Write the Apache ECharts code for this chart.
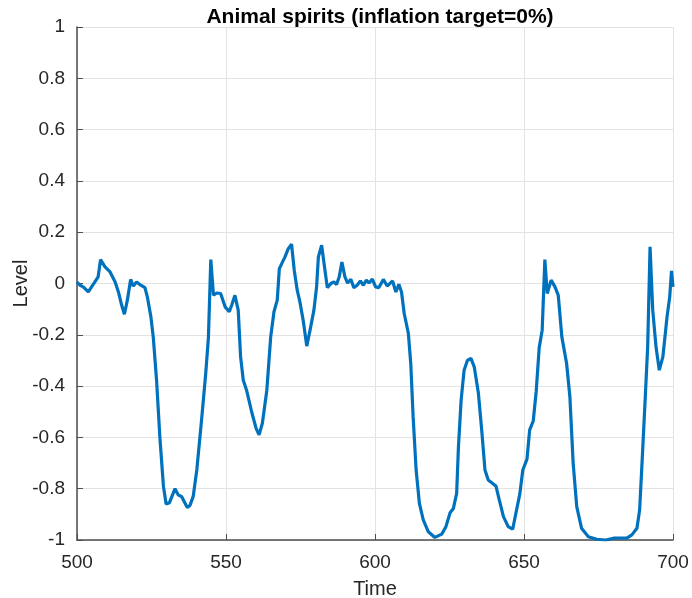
<!DOCTYPE html>
<html>
<head>
<meta charset="utf-8">
<script src="https://cdn.jsdelivr.net/npm/echarts@6/dist/echarts.min.js"></script>
<style>html,body{margin:0;padding:0;background:#fff}#c{width:692px;height:598px}</style>
</head>
<body>
<div id="c"></div>
<script>
const chartTitle = 'Animal spirits (inflation target=0%)';
const xTitle = 'Time';
const yTitle = 'Level';
const xTicks = [500, 550, 600, 650, 700];
const yTicks = [-1, -0.8, -0.6, -0.4, -0.2, 0, 0.2, 0.4, 0.6, 0.8, 1];

const times = [
500.0,501.0,502.1,503.8,504.9,506.0,507.1,507.9,509.4,511.1,512.8,513.9,515.0,515.9,516.9,518.0,518.9,520.0,521.1,522.8,
523.6,524.8,525.6,526.7,527.8,529.0,529.9,531.0,532.9,534.0,535.1,537.0,537.9,539.0,540.2,541.8,543.2,544.1,544.9,545.8,
546.9,548.2,549.7,551.1,551.9,553.0,554.1,554.9,555.8,556.9,558.6,560.1,561.1,562.2,563.7,565.0,566.1,567.2,567.9,569.8,
570.9,572.0,572.9,573.9,574.8,575.9,577.1,578.2,579.5,580.4,581.0,582.1,582.9,584.0,585.2,586.2,587.1,588.0,588.9,589.9,
590.8,591.9,592.9,594.0,595.1,596.1,597.1,598.0,599.1,600.2,601.3,602.8,604.1,605.9,607.0,608.0,608.9,609.8,611.2,612.0,
612.8,613.8,614.9,616.2,617.9,620.1,622.4,623.8,625.2,626.3,627.4,628.0,628.9,629.9,631.0,632.2,633.3,634.7,635.8,636.9,
638.0,639.5,640.6,641.7,643.1,644.7,646.2,647.5,648.6,649.6,651.0,651.9,653.1,654.1,655.1,656.1,657.0,657.8,659.1,660.4,
661.5,662.7,664.3,665.4,666.5,667.7,669.3,671.6,674.4,677.5,680.0,684.5,686.2,687.9,688.8,689.6,690.7,691.5,692.3,693.2,
694.3,695.4,696.6,698.0,698.9,699.5,700.0
];
const levels = [
0.006,-0.007,-0.013,-0.033,-0.013,0.006,0.026,0.093,0.065,0.045,0.006,-0.033,-0.085,-0.12,-0.065,0.016,-0.01,0.006,-0.004,-0.016,
-0.052,-0.13,-0.21,-0.377,-0.598,-0.79,-0.86,-0.855,-0.80,-0.825,-0.83,-0.873,-0.865,-0.83,-0.727,-0.532,-0.35,-0.21,0.093,-0.045,
-0.037,-0.039,-0.091,-0.11,-0.085,-0.046,-0.104,-0.286,-0.377,-0.416,-0.50,-0.565,-0.59,-0.545,-0.416,-0.208,-0.11,-0.065,0.058,0.104,
0.136,0.153,0.052,-0.026,-0.072,-0.143,-0.244,-0.182,-0.104,-0.013,0.104,0.149,0.078,-0.016,0.0,0.006,-0.004,0.026,0.084,0.026,
0.002,0.016,-0.016,-0.007,0.01,-0.007,0.013,0.002,0.017,-0.013,-0.016,0.016,-0.01,0.01,-0.033,-0.003,-0.033,-0.117,-0.195,-0.312,
-0.52,-0.727,-0.857,-0.922,-0.968,-0.99,-0.977,-0.948,-0.894,-0.877,-0.818,-0.637,-0.455,-0.338,-0.30,-0.292,-0.325,-0.428,-0.571,-0.727,
-0.766,-0.78,-0.79,-0.844,-0.909,-0.948,-0.958,-0.883,-0.82,-0.727,-0.685,-0.571,-0.536,-0.42,-0.25,-0.182,0.093,-0.039,0.013,-0.013,
-0.046,-0.208,-0.312,-0.442,-0.701,-0.87,-0.954,-0.987,-0.997,-1.0,-0.993,-0.993,-0.98,-0.954,-0.883,-0.701,-0.442,-0.247,0.143,-0.104,
-0.247,-0.338,-0.286,-0.13,-0.052,0.049,-0.013
];

const FONT = '"Liberation Sans", Arial, sans-serif';
const TXT = '#262626';
const AX = '#4d4d4d';
const chart = echarts.init(document.getElementById('c'));
chart.setOption({
  animation: false,
  backgroundColor: '#ffffff',
  title: {
    text: chartTitle, left: 375, top: 2, textAlign: 'center',
    textStyle: {fontFamily: FONT, fontSize: 21, fontWeight: 'bold', color: '#000'}
  },
  grid: {left: 77, right: 19, top: 27, bottom: 58, containLabel: false, outerBoundsMode: 'none'},
  xAxis: {
    type: 'value', min: xTicks[0], max: xTicks[xTicks.length-1], interval: 50,
    name: xTitle, nameLocation: 'middle', nameGap: 39, nameMoveOverlap: false,
    nameTextStyle: {fontFamily: FONT, fontSize: 20, color: TXT},
    axisLine: {show: true, onZero: false, lineStyle: {color: AX, width: 1.5}},
    axisTick: {show: true, inside: true, length: 6, lineStyle: {color: AX}},
    axisLabel: {fontFamily: FONT, fontSize: 19, color: TXT, margin: 13},
    splitLine: {show: true, lineStyle: {color: '#e3e3e3', width: 1}}
  },
  yAxis: {
    type: 'value', min: yTicks[0], max: yTicks[yTicks.length-1], interval: 0.2,
    name: yTitle, nameLocation: 'middle', nameGap: 46, nameMoveOverlap: false,
    nameTextStyle: {fontFamily: FONT, fontSize: 20, color: TXT},
    axisLine: {show: true, onZero: false, lineStyle: {color: AX, width: 1.5}},
    axisTick: {show: true, inside: true, length: 6, lineStyle: {color: AX}},
    axisLabel: {fontFamily: FONT, fontSize: 19, color: TXT, margin: 12,
      formatter: v => String(+v.toFixed(1))},
    splitLine: {show: true, lineStyle: {color: '#e3e3e3', width: 1}}
  },
  series: [{
    type: 'line',
    data: times.map((t, i) => [t, levels[i]]),
    showSymbol: false,
    smooth: false,
    lineStyle: {color: '#0072BD', width: 3.2},
    itemStyle: {color: '#0072BD'}
  }]
});
</script>
</body>
</html>
